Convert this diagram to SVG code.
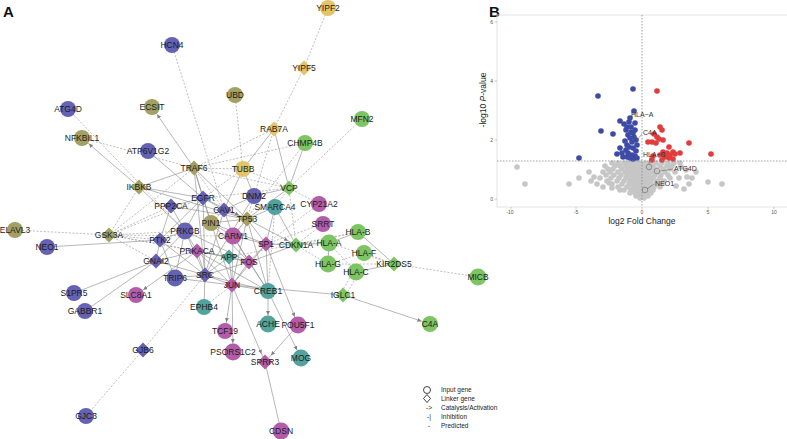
<svg xmlns="http://www.w3.org/2000/svg" xmlns:xlink="http://www.w3.org/1999/xlink" width="787" height="439" viewBox="0 0 787 439">
<style>
.s{stroke:#8f8f8f;stroke-width:0.65;fill:none}
.d{stroke:#9a9a9a;stroke-width:0.65;stroke-dasharray:2 1.6;fill:none}
.a{stroke:#8f8f8f;stroke-width:0.65;fill:none;marker-end:url(#arr)}
.B{fill:#6561b3}.O{fill:#a2a062}.Y{fill:#e3c469}.G{fill:#7dc463}.M{fill:#b35caa}.T{fill:#52a29d}
.nt{font-family:"Liberation Sans",Arial,sans-serif;font-size:8.5px;fill:#1c1c1c;text-anchor:middle}
.pg{fill:#c6c6c6}.pb{fill:#3e4ba6}.pr{fill:#e23c3c}
.tk{font-family:"Liberation Sans",Arial,sans-serif;font-size:5px;fill:#555}
.vl{font-family:"Liberation Sans",Arial,sans-serif;font-size:7px;fill:#333}
.lg{font-family:"Liberation Sans",Arial,sans-serif;font-size:6.5px;fill:#222}
.ax{font-family:"Liberation Sans",Arial,sans-serif;font-size:8.5px;fill:#222}
</style>
<defs>
<marker id="arr" markerUnits="userSpaceOnUse" markerWidth="20" markerHeight="6" refX="13" refY="2" orient="auto"><path d="M0,0 L4,2 L0,4 z" fill="#808080"/></marker>
<rect id="dia" x="-5.3" y="-5.3" width="10.6" height="10.6" transform="rotate(45)"/>
<circle id="pt" r="2.8"/>
</defs>
<rect width="787" height="439" fill="#fff"/>
<text x="3" y="17" font-family="Liberation Sans,Arial,sans-serif" font-size="15" font-weight="bold" fill="#111">A</text>
<text x="489" y="17" font-family="Liberation Sans,Arial,sans-serif" font-size="15" font-weight="bold" fill="#111">B</text>

<g id="connectors">
<line class="d" x1="172" y1="45" x2="224" y2="210"/>
<line class="d" x1="68" y1="109" x2="185" y2="231"/>
<line class="a" x1="194" y1="168" x2="152" y2="107"/>
<line class="d" x1="235" y1="95" x2="243" y2="169"/>
<line class="d" x1="328" y1="8" x2="304" y2="68"/>
<line class="d" x1="304" y1="68" x2="274" y2="129"/>
<line class="s" x1="274" y1="129" x2="243" y2="169"/>
<line class="s" x1="274" y1="129" x2="289" y2="188"/>
<line class="d" x1="274" y1="129" x2="194" y2="168"/>
<line class="d" x1="274" y1="129" x2="254" y2="196"/>
<line class="d" x1="362" y1="119" x2="289" y2="188"/>
<line class="s" x1="305" y1="143" x2="289" y2="188"/>
<line class="d" x1="305" y1="143" x2="194" y2="168"/>
<line class="d" x1="305" y1="143" x2="233" y2="236"/>
<line class="a" x1="139" y1="187" x2="82" y2="138"/>
<line class="d" x1="82" y1="138" x2="194" y2="168"/>
<line class="s" x1="148" y1="151" x2="203" y2="198"/>
<line class="d" x1="15" y1="230" x2="109" y2="235"/>
<line class="s" x1="47" y1="247" x2="160" y2="240"/>
<line class="s" x1="74" y1="293" x2="156" y2="261"/>
<line class="s" x1="85" y1="311" x2="156" y2="261"/>
<line class="a" x1="197" y1="251" x2="136" y2="295"/>
<line class="s" x1="204" y1="307" x2="205" y2="275"/>
<line class="d" x1="204" y1="307" x2="232" y2="285"/>
<line class="d" x1="143" y1="350" x2="205" y2="275"/>
<line class="d" x1="143" y1="350" x2="86" y2="416"/>
<line class="a" x1="232" y1="285" x2="225" y2="331"/>
<line class="a" x1="232" y1="285" x2="233" y2="352"/>
<line class="a" x1="232" y1="285" x2="265" y2="362"/>
<line class="a" x1="268" y1="291" x2="268" y2="324"/>
<line class="a" x1="268" y1="291" x2="301" y2="358"/>
<line class="a" x1="266" y1="244" x2="298" y2="325"/>
<line class="a" x1="298" y1="325" x2="265" y2="362"/>
<line class="s" x1="265" y1="362" x2="281" y2="431"/>
<line class="s" x1="232" y1="285" x2="343" y2="295"/>
<line class="a" x1="343" y1="295" x2="430" y2="324"/>
<line class="d" x1="340" y1="295" x2="353" y2="272"/>
<line class="d" x1="346" y1="295" x2="359" y2="272"/>
<line class="d" x1="394" y1="264" x2="478" y2="277"/>
<line class="s" x1="394" y1="264" x2="358" y2="232"/>
<line class="d" x1="394" y1="264" x2="364" y2="253"/>
<line class="s" x1="394" y1="264" x2="356" y2="272"/>
<line class="d" x1="394" y1="264" x2="329" y2="243"/>
<line class="d" x1="394" y1="264" x2="328" y2="264"/>
<line class="s" x1="329" y1="243" x2="358" y2="232"/>
<line class="d" x1="328" y1="264" x2="364" y2="253"/>
<line class="s" x1="329" y1="243" x2="328" y2="264"/>
<line class="d" x1="329" y1="243" x2="356" y2="272"/>
<line class="s" x1="296" y1="245" x2="329" y2="243"/>
<line class="d" x1="296" y1="245" x2="358" y2="232"/>
<line class="d" x1="296" y1="245" x2="328" y2="264"/>
<line class="d" x1="323" y1="224" x2="296" y2="245"/>
<line class="d" x1="319" y1="204" x2="266" y2="244"/>
<line class="d" x1="323" y1="224" x2="266" y2="244"/>
<line class="s" x1="139" y1="187" x2="194" y2="168"/>
<line class="s" x1="139" y1="187" x2="203" y2="198"/>
<line class="s" x1="139" y1="187" x2="185" y2="231"/>
<line class="d" x1="139" y1="187" x2="109" y2="235"/>
<line class="s" x1="139" y1="187" x2="247" y2="219"/>
<line class="s" x1="194" y1="168" x2="203" y2="198"/>
<line class="s" x1="194" y1="168" x2="247" y2="219"/>
<line class="d" x1="194" y1="168" x2="224" y2="210"/>
<line class="s" x1="194" y1="168" x2="211" y2="223"/>
<line class="d" x1="194" y1="168" x2="243" y2="169"/>
<line class="s" x1="194" y1="168" x2="205" y2="275"/>
<line class="d" x1="194" y1="168" x2="289" y2="188"/>
<line class="s" x1="243" y1="169" x2="224" y2="210"/>
<line class="d" x1="243" y1="169" x2="203" y2="198"/>
<line class="d" x1="243" y1="169" x2="289" y2="188"/>
<line class="s" x1="243" y1="169" x2="254" y2="196"/>
<line class="s" x1="254" y1="196" x2="224" y2="210"/>
<line class="s" x1="254" y1="196" x2="205" y2="275"/>
<line class="d" x1="254" y1="196" x2="247" y2="219"/>
<line class="s" x1="254" y1="196" x2="289" y2="188"/>
<line class="s" x1="289" y1="188" x2="247" y2="219"/>
<line class="d" x1="289" y1="188" x2="275" y2="207"/>
<line class="d" x1="289" y1="188" x2="203" y2="198"/>
<line class="d" x1="289" y1="188" x2="296" y2="245"/>
<line class="d" x1="289" y1="188" x2="319" y2="204"/>
<line class="s" x1="275" y1="207" x2="266" y2="244"/>
<line class="s" x1="275" y1="207" x2="247" y2="219"/>
<line class="d" x1="275" y1="207" x2="268" y2="291"/>
<line class="s" x1="275" y1="207" x2="296" y2="245"/>
<line class="s" x1="203" y1="198" x2="224" y2="210"/>
<line class="s" x1="203" y1="198" x2="171" y2="206"/>
<line class="s" x1="203" y1="198" x2="160" y2="240"/>
<line class="s" x1="203" y1="198" x2="185" y2="231"/>
<line class="s" x1="203" y1="198" x2="205" y2="275"/>
<line class="a" x1="203" y1="198" x2="247" y2="219"/>
<line class="d" x1="203" y1="198" x2="109" y2="235"/>
<line class="s" x1="203" y1="198" x2="211" y2="223"/>
<line class="s" x1="171" y1="206" x2="185" y2="231"/>
<line class="d" x1="171" y1="206" x2="109" y2="235"/>
<line class="s" x1="171" y1="206" x2="247" y2="219"/>
<line class="s" x1="171" y1="206" x2="160" y2="240"/>
<line class="s" x1="224" y1="210" x2="205" y2="275"/>
<line class="s" x1="224" y1="210" x2="247" y2="219"/>
<line class="d" x1="224" y1="210" x2="211" y2="223"/>
<line class="s" x1="224" y1="210" x2="233" y2="236"/>
<line class="s" x1="185" y1="231" x2="160" y2="240"/>
<line class="s" x1="185" y1="231" x2="156" y2="261"/>
<line class="s" x1="185" y1="231" x2="205" y2="275"/>
<line class="s" x1="185" y1="231" x2="197" y2="251"/>
<line class="d" x1="185" y1="231" x2="109" y2="235"/>
<line class="s" x1="185" y1="231" x2="249" y2="262"/>
<line class="s" x1="185" y1="231" x2="175" y2="278"/>
<line class="s" x1="160" y1="240" x2="156" y2="261"/>
<line class="s" x1="160" y1="240" x2="205" y2="275"/>
<line class="d" x1="160" y1="240" x2="109" y2="235"/>
<line class="s" x1="160" y1="240" x2="175" y2="278"/>
<line class="s" x1="156" y1="261" x2="197" y2="251"/>
<line class="s" x1="156" y1="261" x2="205" y2="275"/>
<line class="d" x1="156" y1="261" x2="109" y2="235"/>
<line class="s" x1="175" y1="278" x2="205" y2="275"/>
<line class="s" x1="175" y1="278" x2="232" y2="285"/>
<line class="s" x1="205" y1="275" x2="232" y2="285"/>
<line class="s" x1="205" y1="275" x2="249" y2="262"/>
<line class="s" x1="205" y1="275" x2="268" y2="291"/>
<line class="s" x1="205" y1="275" x2="229" y2="257"/>
<line class="s" x1="205" y1="275" x2="197" y2="251"/>
<line class="s" x1="197" y1="251" x2="268" y2="291"/>
<line class="d" x1="197" y1="251" x2="109" y2="235"/>
<line class="s" x1="197" y1="251" x2="229" y2="257"/>
<line class="s" x1="197" y1="251" x2="249" y2="262"/>
<line class="s" x1="197" y1="251" x2="232" y2="285"/>
<line class="s" x1="211" y1="223" x2="247" y2="219"/>
<line class="s" x1="211" y1="223" x2="232" y2="285"/>
<line class="s" x1="211" y1="223" x2="249" y2="262"/>
<line class="s" x1="211" y1="223" x2="233" y2="236"/>
<line class="s" x1="211" y1="223" x2="266" y2="244"/>
<line class="s" x1="247" y1="219" x2="266" y2="244"/>
<line class="a" x1="247" y1="219" x2="296" y2="245"/>
<line class="s" x1="247" y1="219" x2="233" y2="236"/>
<line class="s" x1="247" y1="219" x2="268" y2="291"/>
<line class="s" x1="247" y1="219" x2="232" y2="285"/>
<line class="s" x1="233" y1="236" x2="266" y2="244"/>
<line class="s" x1="233" y1="236" x2="232" y2="285"/>
<line class="s" x1="233" y1="236" x2="268" y2="291"/>
<line class="s" x1="233" y1="236" x2="249" y2="262"/>
<line class="s" x1="266" y1="244" x2="296" y2="245"/>
<line class="s" x1="266" y1="244" x2="249" y2="262"/>
<line class="s" x1="266" y1="244" x2="232" y2="285"/>
<line class="s" x1="266" y1="244" x2="268" y2="291"/>
<line class="d" x1="266" y1="244" x2="329" y2="243"/>
<line class="s" x1="249" y1="262" x2="232" y2="285"/>
<line class="s" x1="249" y1="262" x2="268" y2="291"/>
<line class="s" x1="249" y1="262" x2="229" y2="257"/>
<line class="s" x1="229" y1="257" x2="232" y2="285"/>
<line class="d" x1="229" y1="257" x2="109" y2="235"/>
<line class="s" x1="232" y1="285" x2="268" y2="291"/>
<line class="d" x1="109" y1="235" x2="194" y2="168"/>
<line class="d" x1="109" y1="235" x2="233" y2="236"/>
<line class="d" x1="229" y1="257" x2="358" y2="232"/>
<line class="s" x1="249" y1="262" x2="296" y2="245"/>
</g>

<g id="n-HCN4"><circle class="B" cx="172" cy="45" r="8"/><text class="nt" x="172" y="48">HCN4</text></g>
<g id="n-ATG4D"><circle class="B" cx="68" cy="109" r="8"/><text class="nt" x="68" y="112">ATG4D</text></g>
<g id="n-ECSIT"><circle class="O" cx="152" cy="107" r="8"/><text class="nt" x="152" y="110">ECSIT</text></g>
<g id="n-UBD"><circle class="O" cx="235" cy="95" r="8"/><text class="nt" x="235" y="98">UBD</text></g>
<g id="n-YIPF2"><circle class="Y" cx="328" cy="8" r="8"/><text class="nt" x="328" y="11">YIPF2</text></g>
<g id="n-YIPF5"><use href="#dia" x="304" y="68" class="Y"/><text class="nt" x="304" y="71">YIPF5</text></g>
<g id="n-RAB7A"><use href="#dia" x="274" y="129" class="Y"/><text class="nt" x="274" y="132">RAB7A</text></g>
<g id="n-MFN2"><circle class="G" cx="362" cy="119" r="8"/><text class="nt" x="362" y="122">MFN2</text></g>
<g id="n-CHMP4B"><circle class="G" cx="305" cy="143" r="8"/><text class="nt" x="305" y="146">CHMP4B</text></g>
<g id="n-NFKBIL1"><circle class="O" cx="82" cy="138" r="8"/><text class="nt" x="82" y="141">NFKBIL1</text></g>
<g id="n-ATP6V1G2"><circle class="B" cx="148" cy="151" r="8"/><text class="nt" x="148" y="154">ATP6V1G2</text></g>
<g id="n-TRAF6"><use href="#dia" x="194" y="168" class="O"/><text class="nt" x="194" y="171">TRAF6</text></g>
<g id="n-TUBB"><circle class="Y" cx="243" cy="169" r="8"/><text class="nt" x="243" y="172">TUBB</text></g>
<g id="n-IKBKB"><use href="#dia" x="139" y="187" class="O"/><text class="nt" x="139" y="190">IKBKB</text></g>
<g id="n-VCP"><use href="#dia" x="289" y="188" class="G"/><text class="nt" x="289" y="191">VCP</text></g>
<g id="n-DNM2"><circle class="B" cx="254" cy="196" r="8"/><text class="nt" x="254" y="199">DNM2</text></g>
<g id="n-EGFR"><use href="#dia" x="203" y="198" class="B"/><text class="nt" x="203" y="201">EGFR</text></g>
<g id="n-PPP2CA"><use href="#dia" x="171" y="206" class="B"/><text class="nt" x="171" y="209">PPP2CA</text></g>
<g id="n-CAV1"><use href="#dia" x="224" y="210" class="B"/><text class="nt" x="224" y="213">CAV1</text></g>
<g id="n-SMARCA4"><circle class="T" cx="275" cy="207" r="8"/><text class="nt" x="275" y="210">SMARCA4</text></g>
<g id="n-CYP21A2"><circle class="M" cx="319" cy="204" r="8"/><text class="nt" x="319" y="207">CYP21A2</text></g>
<g id="n-TP53"><use href="#dia" x="247" y="219" class="O"/><text class="nt" x="247" y="222">TP53</text></g>
<g id="n-PIN1"><circle class="O" cx="211" cy="223" r="8"/><text class="nt" x="211" y="226">PIN1</text></g>
<g id="n-SRRT"><circle class="M" cx="323" cy="224" r="8"/><text class="nt" x="323" y="227">SRRT</text></g>
<g id="n-ELAVL3"><circle class="O" cx="15" cy="230" r="8"/><text class="nt" x="15" y="233">ELAVL3</text></g>
<g id="n-GSK3A"><use href="#dia" x="109" y="235" class="O"/><text class="nt" x="109" y="238">GSK3A</text></g>
<g id="n-PRKCB"><circle class="B" cx="185" cy="231" r="8.5"/><text class="nt" x="185" y="234">PRKCB</text></g>
<g id="n-CARM1"><circle class="M" cx="233" cy="236" r="8.5"/><text class="nt" x="233" y="239">CARM1</text></g>
<g id="n-HLA-B"><circle class="G" cx="358" cy="232" r="8"/><text class="nt" x="358" y="235">HLA-B</text></g>
<g id="n-PTK2"><use href="#dia" x="160" y="240" class="B"/><text class="nt" x="160" y="243">PTK2</text></g>
<g id="n-NEO1"><circle class="B" cx="47" cy="247" r="8"/><text class="nt" x="47" y="250">NEO1</text></g>
<g id="n-SP1"><use href="#dia" x="266" y="244" class="M"/><text class="nt" x="266" y="247">SP1</text></g>
<g id="n-CDKN1A"><use href="#dia" x="296" y="245" class="G"/><text class="nt" x="296" y="248">CDKN1A</text></g>
<g id="n-HLA-A"><circle class="G" cx="329" cy="243" r="8.5"/><text class="nt" x="329" y="246">HLA-A</text></g>
<g id="n-PRKACA"><use href="#dia" x="197" y="251" class="M"/><text class="nt" x="197" y="254">PRKACA</text></g>
<g id="n-HLA-F"><circle class="G" cx="364" cy="253" r="8"/><text class="nt" x="364" y="256">HLA-F</text></g>
<g id="n-APP"><use href="#dia" x="229" y="257" class="T"/><text class="nt" x="229" y="260">APP</text></g>
<g id="n-GNAI2"><use href="#dia" x="156" y="261" class="B"/><text class="nt" x="156" y="264">GNAI2</text></g>
<g id="n-FOS"><use href="#dia" x="249" y="262" class="M"/><text class="nt" x="249" y="265">FOS</text></g>
<g id="n-HLA-G"><circle class="G" cx="328" cy="264" r="8.5"/><text class="nt" x="328" y="267">HLA-G</text></g>
<g id="n-KIR2DS5"><use href="#dia" x="394" y="264" class="G"/><text class="nt" x="394" y="267">KIR2DS5</text></g>
<g id="n-HLA-C"><circle class="G" cx="356" cy="272" r="8.5"/><text class="nt" x="356" y="275">HLA-C</text></g>
<g id="n-MICB"><circle class="G" cx="478" cy="277" r="8.5"/><text class="nt" x="478" y="280">MICB</text></g>
<g id="n-SRC"><use href="#dia" x="205" y="275" class="B"/><text class="nt" x="205" y="278">SRC</text></g>
<g id="n-TRIP6"><circle class="B" cx="175" cy="278" r="8.5"/><text class="nt" x="175" y="281">TRIP6</text></g>
<g id="n-JUN"><use href="#dia" x="232" y="285" class="M"/><text class="nt" x="232" y="288">JUN</text></g>
<g id="n-CREB1"><circle class="T" cx="268" cy="291" r="8"/><text class="nt" x="268" y="294">CREB1</text></g>
<g id="n-IGLC1"><use href="#dia" x="343" y="295" class="G"/><text class="nt" x="343" y="298">IGLC1</text></g>
<g id="n-S1PR5"><circle class="B" cx="74" cy="293" r="8"/><text class="nt" x="74" y="296">S1PR5</text></g>
<g id="n-SLC8A1"><circle class="M" cx="136" cy="295" r="8"/><text class="nt" x="136" y="298">SLC8A1</text></g>
<g id="n-GABBR1"><circle class="B" cx="85" cy="311" r="8"/><text class="nt" x="85" y="314">GABBR1</text></g>
<g id="n-EPHB4"><circle class="T" cx="204" cy="307" r="8"/><text class="nt" x="204" y="310">EPHB4</text></g>
<g id="n-C4A"><circle class="G" cx="430" cy="324" r="8"/><text class="nt" x="430" y="327">C4A</text></g>
<g id="n-ACHE"><circle class="T" cx="268" cy="324" r="8.5"/><text class="nt" x="268" y="327">ACHE</text></g>
<g id="n-POU5F1"><circle class="M" cx="298" cy="325" r="8.5"/><text class="nt" x="298" y="328">POU5F1</text></g>
<g id="n-TCF19"><circle class="M" cx="225" cy="331" r="8"/><text class="nt" x="225" y="334">TCF19</text></g>
<g id="n-GJB6"><use href="#dia" x="143" y="350" class="B"/><text class="nt" x="143" y="353">GJB6</text></g>
<g id="n-PSORS1C2"><circle class="M" cx="233" cy="352" r="8.5"/><text class="nt" x="233" y="355">PSORS1C2</text></g>
<g id="n-MOG"><circle class="T" cx="301" cy="358" r="8.5"/><text class="nt" x="301" y="361">MOG</text></g>
<g id="n-SPRR3"><use href="#dia" x="265" y="362" class="M"/><text class="nt" x="265" y="365">SPRR3</text></g>
<g id="n-GJC3"><circle class="B" cx="86" cy="416" r="8"/><text class="nt" x="86" y="419">GJC3</text></g>
<g id="n-CDSN"><circle class="M" cx="281" cy="431" r="8.5"/><text class="nt" x="281" y="434">CDSN</text></g>

<g id="legend">
<circle cx="427" cy="390" r="3.5" fill="none" stroke="#111" stroke-width="0.8"/>
<polygon points="427,394.5 430.5,398.5 427,402.5 423.5,398.5" fill="none" stroke="#111" stroke-width="0.8"/>
<text class="lg" x="426" y="410">-&gt;</text>
<text class="lg" x="427" y="419">-|</text>
<text class="lg" x="428" y="428">-</text>
<text class="lg" x="441" y="392">Input gene</text>
<text class="lg" x="441" y="401">Linker gene</text>
<text class="lg" x="441" y="410">Catalysis/Activation</text>
<text class="lg" x="441" y="419">Inhibition</text>
<text class="lg" x="441" y="428">Predicted</text>
</g>

<g id="volcano">
<rect x="497" y="15" width="300" height="192" fill="none" stroke="#dcdcdc" stroke-width="0.8"/>
<g stroke="#999" stroke-width="0.5">
<line x1="494.5" y1="22" x2="497" y2="22"/><line x1="494.5" y1="81" x2="497" y2="81"/><line x1="494.5" y1="140" x2="497" y2="140"/><line x1="494.5" y1="199" x2="497" y2="199"/>
<line x1="511" y1="207" x2="511" y2="209.5"/><line x1="576" y1="207" x2="576" y2="209.5"/><line x1="642" y1="207" x2="642" y2="209.5"/><line x1="708" y1="207" x2="708" y2="209.5"/><line x1="774" y1="207" x2="774" y2="209.5"/>
</g>
<text class="tk" x="493" y="24" text-anchor="end">6</text>
<text class="tk" x="493" y="83" text-anchor="end">4</text>
<text class="tk" x="493" y="142" text-anchor="end">2</text>
<text class="tk" x="493" y="201" text-anchor="end">0</text>
<text class="tk" x="510" y="214" text-anchor="middle">-10</text>
<text class="tk" x="576" y="214" text-anchor="middle">-5</text>
<text class="tk" x="642" y="214" text-anchor="middle">0</text>
<text class="tk" x="708" y="214" text-anchor="middle">5</text>
<text class="tk" x="774" y="214" text-anchor="middle">10</text>
<text class="ax" x="642" y="224" text-anchor="middle">log2 Fold Change</text>
<text class="ax" transform="translate(486,100) rotate(-90)" text-anchor="middle">-log10 <tspan font-style="italic">P</tspan>-value</text>

<g class="pg">
<use href="#pt" x="612" y="163"/><use href="#pt" x="618" y="163"/><use href="#pt" x="624" y="163"/><use href="#pt" x="628" y="163"/><use href="#pt" x="632" y="163"/><use href="#pt" x="636" y="163"/><use href="#pt" x="640" y="163"/><use href="#pt" x="645" y="163"/><use href="#pt" x="650" y="163"/><use href="#pt" x="656" y="163"/><use href="#pt" x="662" y="163"/><use href="#pt" x="668" y="163"/><use href="#pt" x="674" y="163"/><use href="#pt" x="680" y="163"/>
<use href="#pt" x="605" y="166"/><use href="#pt" x="615" y="166"/><use href="#pt" x="620" y="166"/><use href="#pt" x="626" y="166"/><use href="#pt" x="631" y="166"/><use href="#pt" x="635" y="166"/><use href="#pt" x="639" y="166"/><use href="#pt" x="643" y="166"/><use href="#pt" x="648" y="166"/><use href="#pt" x="653" y="166"/><use href="#pt" x="660" y="166"/><use href="#pt" x="667" y="166"/><use href="#pt" x="672" y="166"/>
<use href="#pt" x="608" y="169"/><use href="#pt" x="613" y="169"/><use href="#pt" x="622" y="169"/><use href="#pt" x="628" y="169"/><use href="#pt" x="633" y="169"/><use href="#pt" x="637" y="169"/><use href="#pt" x="641" y="169"/><use href="#pt" x="646" y="169"/><use href="#pt" x="650" y="169"/><use href="#pt" x="655" y="169"/><use href="#pt" x="663" y="169"/><use href="#pt" x="670" y="169"/>
<use href="#pt" x="603" y="172"/><use href="#pt" x="610" y="172"/><use href="#pt" x="618" y="172"/><use href="#pt" x="625" y="172"/><use href="#pt" x="630" y="172"/><use href="#pt" x="634" y="172"/><use href="#pt" x="638" y="172"/><use href="#pt" x="642" y="172"/><use href="#pt" x="647" y="172"/><use href="#pt" x="652" y="172"/><use href="#pt" x="658" y="172"/><use href="#pt" x="665" y="172"/><use href="#pt" x="675" y="172"/>
<use href="#pt" x="606" y="175"/><use href="#pt" x="614" y="175"/><use href="#pt" x="621" y="175"/><use href="#pt" x="627" y="175"/><use href="#pt" x="632" y="175"/><use href="#pt" x="636" y="175"/><use href="#pt" x="640" y="175"/><use href="#pt" x="644" y="175"/><use href="#pt" x="649" y="175"/><use href="#pt" x="655" y="175"/><use href="#pt" x="661" y="175"/><use href="#pt" x="668" y="175"/>
<use href="#pt" x="600" y="178"/><use href="#pt" x="611" y="178"/><use href="#pt" x="619" y="178"/><use href="#pt" x="626" y="178"/><use href="#pt" x="631" y="178"/><use href="#pt" x="635" y="178"/><use href="#pt" x="639" y="178"/><use href="#pt" x="643" y="178"/><use href="#pt" x="648" y="178"/><use href="#pt" x="653" y="178"/><use href="#pt" x="660" y="178"/><use href="#pt" x="670" y="178"/><use href="#pt" x="679" y="178"/>
<use href="#pt" x="607" y="181"/><use href="#pt" x="617" y="181"/><use href="#pt" x="624" y="181"/><use href="#pt" x="630" y="181"/><use href="#pt" x="634" y="181"/><use href="#pt" x="638" y="181"/><use href="#pt" x="642" y="181"/><use href="#pt" x="646" y="181"/><use href="#pt" x="651" y="181"/><use href="#pt" x="657" y="181"/><use href="#pt" x="664" y="181"/>
<use href="#pt" x="612" y="184"/><use href="#pt" x="622" y="184"/><use href="#pt" x="629" y="184"/><use href="#pt" x="634" y="184"/><use href="#pt" x="638" y="184"/><use href="#pt" x="641" y="184"/><use href="#pt" x="645" y="184"/><use href="#pt" x="650" y="184"/><use href="#pt" x="656" y="184"/><use href="#pt" x="662" y="184"/>
<use href="#pt" x="618" y="187"/><use href="#pt" x="627" y="187"/><use href="#pt" x="633" y="187"/><use href="#pt" x="637" y="187"/><use href="#pt" x="641" y="187"/><use href="#pt" x="645" y="187"/><use href="#pt" x="649" y="187"/><use href="#pt" x="654" y="187"/><use href="#pt" x="660" y="187"/>
<use href="#pt" x="624" y="190"/><use href="#pt" x="631" y="190"/><use href="#pt" x="636" y="190"/><use href="#pt" x="640" y="190"/><use href="#pt" x="644" y="190"/><use href="#pt" x="648" y="190"/><use href="#pt" x="653" y="190"/>
<use href="#pt" x="630" y="193"/><use href="#pt" x="635" y="193"/><use href="#pt" x="639" y="193"/><use href="#pt" x="643" y="193"/><use href="#pt" x="647" y="193"/><use href="#pt" x="651" y="193"/>
<use href="#pt" x="636" y="196"/><use href="#pt" x="640" y="196"/><use href="#pt" x="644" y="196"/><use href="#pt" x="648" y="196"/><use href="#pt" x="640" y="198"/><use href="#pt" x="644" y="198"/>
<use href="#pt" x="517" y="167"/><use href="#pt" x="525" y="184"/><use href="#pt" x="569" y="184"/><use href="#pt" x="579" y="178"/><use href="#pt" x="591" y="181"/><use href="#pt" x="594" y="177"/><use href="#pt" x="597" y="184"/><use href="#pt" x="589" y="172"/><use href="#pt" x="603" y="187"/><use href="#pt" x="692" y="178"/><use href="#pt" x="708" y="182"/><use href="#pt" x="722" y="184"/><use href="#pt" x="689" y="184"/><use href="#pt" x="696" y="172"/><use href="#pt" x="681" y="167"/><use href="#pt" x="686" y="170"/><use href="#pt" x="612" y="188"/><use href="#pt" x="620" y="190"/><use href="#pt" x="676" y="186"/><use href="#pt" x="684" y="189"/><use href="#pt" x="609" y="183"/><use href="#pt" x="687" y="177"/>
</g>
<g class="pb">
<use href="#pt" x="633" y="89"/><use href="#pt" x="598" y="96"/><use href="#pt" x="634" y="111"/><use href="#pt" x="620" y="121"/><use href="#pt" x="629" y="122"/><use href="#pt" x="635" y="123"/><use href="#pt" x="627" y="127"/><use href="#pt" x="631" y="127"/><use href="#pt" x="626" y="130"/><use href="#pt" x="601" y="131"/><use href="#pt" x="613" y="134"/><use href="#pt" x="633" y="133"/><use href="#pt" x="628" y="135"/><use href="#pt" x="634" y="137"/><use href="#pt" x="630" y="138"/><use href="#pt" x="636" y="140"/><use href="#pt" x="632" y="142"/><use href="#pt" x="627" y="145"/><use href="#pt" x="620" y="148"/><use href="#pt" x="629" y="147"/><use href="#pt" x="633" y="148"/><use href="#pt" x="626" y="150"/><use href="#pt" x="636" y="151"/><use href="#pt" x="617" y="154"/><use href="#pt" x="622" y="153"/><use href="#pt" x="628" y="153"/><use href="#pt" x="632" y="155"/><use href="#pt" x="635" y="156"/><use href="#pt" x="579" y="158"/><use href="#pt" x="623" y="157"/><use href="#pt" x="627" y="157"/><use href="#pt" x="630" y="158"/><use href="#pt" x="637" y="158"/><use href="#pt" x="633" y="159"/><use href="#pt" x="635" y="130"/><use href="#pt" x="630" y="118"/><use href="#pt" x="625" y="141"/><use href="#pt" x="637" y="145"/><use href="#pt" x="631" y="132"/><use href="#pt" x="624" y="124"/>
</g>
<g class="pr">
<use href="#pt" x="657" y="91"/><use href="#pt" x="660" y="127"/><use href="#pt" x="662" y="130"/><use href="#pt" x="654" y="134"/><use href="#pt" x="657" y="137"/><use href="#pt" x="659" y="139"/><use href="#pt" x="648" y="142"/><use href="#pt" x="652" y="142"/><use href="#pt" x="656" y="143"/><use href="#pt" x="663" y="140"/><use href="#pt" x="689" y="143"/><use href="#pt" x="669" y="147"/><use href="#pt" x="663" y="152"/><use href="#pt" x="667" y="153"/><use href="#pt" x="673" y="152"/><use href="#pt" x="675" y="154"/><use href="#pt" x="680" y="153"/><use href="#pt" x="711" y="154"/><use href="#pt" x="653" y="156"/><use href="#pt" x="660" y="155"/><use href="#pt" x="665" y="157"/><use href="#pt" x="669" y="158"/><use href="#pt" x="673" y="159"/><use href="#pt" x="652" y="160"/><use href="#pt" x="662" y="160"/><use href="#pt" x="670" y="155"/>
</g>
<line x1="642" y1="15" x2="642" y2="207" stroke="#888" stroke-width="0.8" stroke-dasharray="1.5 1.5"/>
<line x1="497" y1="161" x2="787" y2="161" stroke="#888" stroke-width="0.8" stroke-dasharray="1.5 1.5"/>
<g fill="none" stroke="#555" stroke-width="0.5">
<circle cx="649" cy="167" r="2.8"/><circle cx="657" cy="171" r="2.8"/><circle cx="645" cy="190" r="2.8"/>
<line x1="631" y1="116" x2="629" y2="124"/>
<line x1="642" y1="134" x2="636" y2="141"/>
<line x1="650" y1="157" x2="649" y2="164"/>
<line x1="660" y1="171" x2="673" y2="169"/>
<line x1="647" y1="189" x2="654" y2="184"/>
</g>
<text class="vl" x="631" y="117">HLA−A</text>
<text class="vl" x="643" y="135">C4A</text>
<text class="vl" x="643" y="157">HLA−B</text>
<text class="vl" x="674" y="171">ATG4D</text>
<text class="vl" x="655" y="186">NEO1</text>
</g>
</svg>
